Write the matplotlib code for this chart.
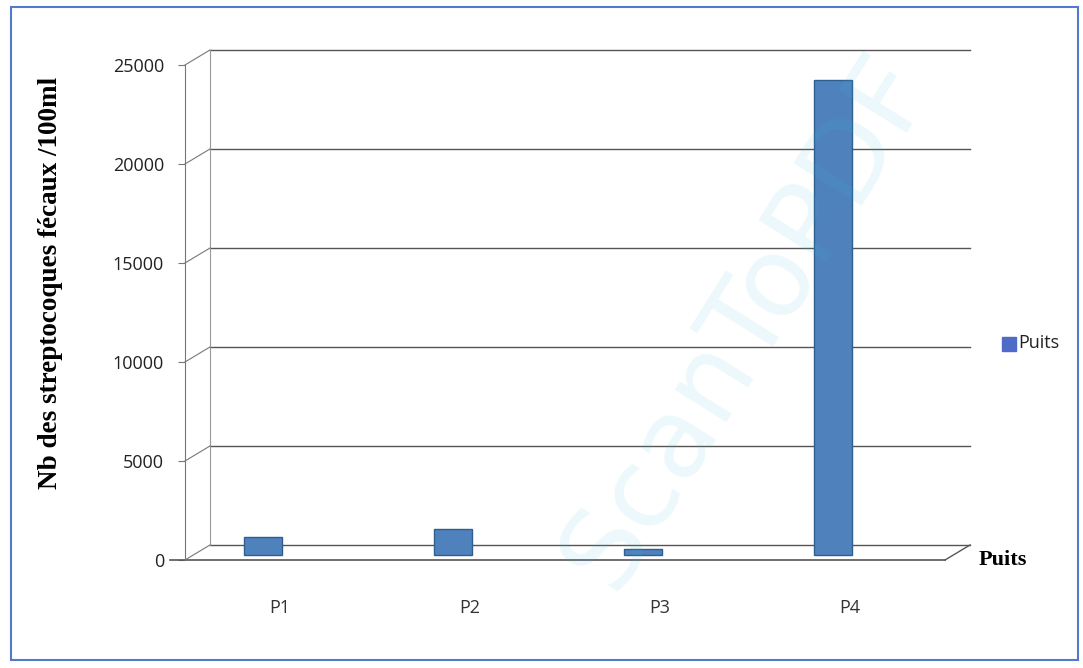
import matplotlib.pyplot as plt
from matplotlib.patches import Rectangle
from matplotlib.transforms import ScaledTranslation, blended_transform_factory

# data
puits = ['P1', 'P2', 'P3', 'P4']
valeurs = [900, 1300, 300, 24000]
y_ticks = [0, 5000, 10000, 15000, 20000, 25000]

bar_face = '#4F81BD'
bar_side = '#2F5F8F'

fig = plt.figure(figsize=(10.83, 6.68), dpi=100)
ax = fig.add_axes([0.1708, 0.1617, 0.7018, 0.741])
ax.set_xlim(-0.5, 3.5)
ax.set_ylim(0, 25000)

# back wall offset (depth of the fake 3d box)
dx, dy = 25 / 100, 15 / 100
back = ax.transData + ScaledTranslation(dx, dy, fig.dpi_scale_trans)
back_ax = blended_transform_factory(ax.transAxes, ax.transData) + ScaledTranslation(dx, dy, fig.dpi_scale_trans)
front_ax = blended_transform_factory(ax.transAxes, ax.transData)
inv = fig.transFigure.inverted()

for v in y_ticks:
    ax.plot([0, 1.0], [v, v], transform=back_ax, color='#555555', lw=1.0, clip_on=False, zorder=1)
    # small connector from the axis to the back wall
    a = inv.transform(ax.transData.transform((-0.5, v)))
    b = inv.transform(back.transform((-0.5, v)))
    fig.add_artist(plt.Line2D([a[0], b[0]], [a[1], b[1]], color='#777777', lw=0.8))

# back wall left edge and floor
ax.plot([0, 0], [0, 25000], transform=back_ax, color='#999999', lw=0.8, clip_on=False)
ax.plot([-0.02, 1.0], [0, 0], transform=front_ax, color='#555555', lw=1.2, clip_on=False)
a = inv.transform(ax.transData.transform((3.5, 0)))
b = inv.transform(back.transform((3.5, 0)))
fig.add_artist(plt.Line2D([a[0], b[0]], [a[1], b[1]], color='#555555', lw=1.0))

# bars, pushed a little back / left like the 3d original
w = 0.195
shift = ax.transData + ScaledTranslation(-17 / 100, 5 / 100, fig.dpi_scale_trans)
bars = ax.bar(range(len(puits)), valeurs, width=w, color=bar_face, edgecolor=bar_side, lw=1.0,
              transform=shift, zorder=4)

ax.set_xticks(range(len(puits)))
ax.set_xticklabels(puits, fontsize=13, family='Open Sans', color='#333333')
ax.set_yticks(y_ticks)
ax.set_yticklabels([str(v) for v in y_ticks], fontsize=13, family='Open Sans', color='#222222')
ax.tick_params(axis='x', length=0, pad=28)
ax.tick_params(axis='y', length=5, color='#777777', pad=10)
for s in ['top', 'right', 'bottom']:
    ax.spines[s].set_visible(False)
ax.spines['left'].set_color('#777777')

ax.set_ylabel('Nb des streptocoques fécaux /100ml', family='Liberation Serif', fontweight='bold',
              fontsize=19.5)
ax.yaxis.set_label_coords(-0.16, 0.56)
fig.text(0.904, 0.161, 'Puits', family='Liberation Serif', fontweight='bold', fontsize=16, va='center')

# legend
fig.patches.append(Rectangle((0.925, 0.475), 0.013, 0.021, transform=fig.transFigure, color='#4F6BC8', figure=fig))
fig.text(0.94, 0.486, 'Puits', family='Open Sans', fontsize=13, va='center', color='#222222')

# scan frame and watermark
fig.patches.append(Rectangle((0.01, 0.012), 0.985, 0.978, transform=fig.transFigure, fill=False,
                             edgecolor='#5577CC', lw=1.5, figure=fig))
fig.text(0.69, 0.52, 'ScanToPDF', fontsize=80, rotation=58, color='#3FC0D8', alpha=0.1,
         ha='center', va='center', family='DejaVu Sans')

fig.savefig('out.png', dpi=100)
